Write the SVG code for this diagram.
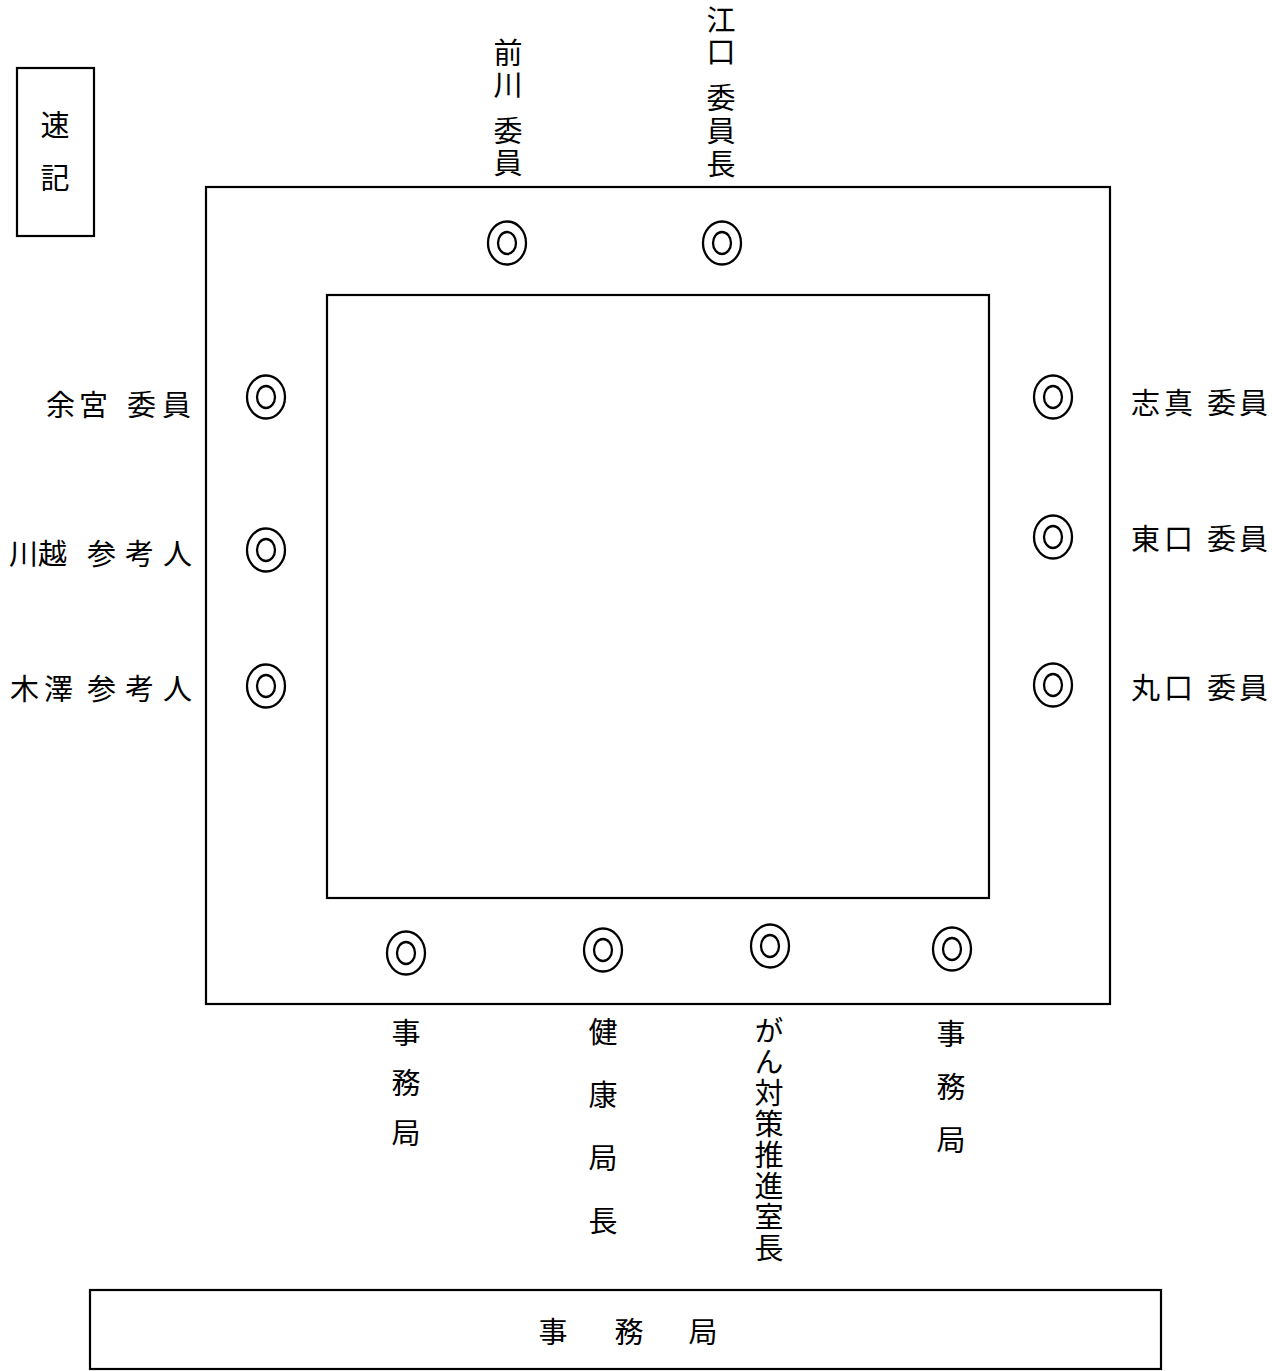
<svg xmlns="http://www.w3.org/2000/svg" width="1284" height="1371" viewBox="0 0 1284 1371">
<style>
.ln{fill:none;stroke:#000;stroke-width:2.2}
.seat{fill:none;stroke:#000;stroke-width:2.3}
text{font-family:"Noto Sans CJK JP","Noto Sans CJK SC",sans-serif;font-size:29px;fill:#000}
.m{text-anchor:middle}
.v{writing-mode:vertical-rl;text-anchor:start}
</style>
<defs>
<g id="seat"><ellipse class="seat" rx="19" ry="21.5"/><ellipse class="seat" rx="9" ry="11"/></g>
</defs>
<rect width="1284" height="1371" fill="#fff"/>
<g id="tables">
<rect class="ln" x="206" y="187" width="904" height="817"/>
<rect class="ln" x="327" y="295" width="662" height="603"/>
</g>
<g id="sokki">
<rect class="ln" x="17" y="68" width="77" height="168"/>
<text class="v" x="55" y="110" letter-spacing="24">速記</text>
</g>
<g id="maekawa">
<use href="#seat" x="507" y="243"/>
<text class="v" x="508" y="38" letter-spacing="3">前川</text>
<text class="v" x="508" y="116" letter-spacing="3">委員</text>
</g>
<g id="eguchi">
<use href="#seat" x="722" y="243"/>
<text class="v" x="721" y="5" letter-spacing="3">江口</text>
<text class="v" x="721" y="83" letter-spacing="4">委員長</text>
</g>
<g id="yomiya">
<use href="#seat" x="266" y="397"/>
<text x="46" y="416" textLength="62" lengthAdjust="spacing">余宮</text>
<text x="127" y="416" textLength="64" lengthAdjust="spacing">委員</text>
</g>
<g id="kawagoe">
<use href="#seat" x="266" y="550"/>
<text x="9" y="565">川越</text>
<text x="87" y="565" textLength="105" lengthAdjust="spacing">参考人</text>
</g>
<g id="kizawa">
<use href="#seat" x="266" y="686"/>
<text x="10" y="700" textLength="63" lengthAdjust="spacing">木澤</text>
<text x="87" y="700" textLength="105" lengthAdjust="spacing">参考人</text>
</g>
<g id="shima">
<use href="#seat" x="1053" y="397"/>
<text x="1131" y="414" textLength="62" lengthAdjust="spacing">志真</text>
<text x="1207" y="414" textLength="61" lengthAdjust="spacing">委員</text>
</g>
<g id="higashiguchi">
<use href="#seat" x="1053" y="537"/>
<text x="1131" y="550" textLength="62" lengthAdjust="spacing">東口</text>
<text x="1207" y="550" textLength="61" lengthAdjust="spacing">委員</text>
</g>
<g id="maruguchi">
<use href="#seat" x="1053" y="685"/>
<text x="1131" y="699" textLength="62" lengthAdjust="spacing">丸口</text>
<text x="1207" y="699" textLength="61" lengthAdjust="spacing">委員</text>
</g>
<g id="jimukyoku1">
<use href="#seat" x="406" y="953"/>
<text class="v" x="406" y="1018" letter-spacing="21">事務局</text>
</g>
<g id="kenkou">
<use href="#seat" x="603" y="950"/>
<text class="v" x="603" y="1017" letter-spacing="34">健康局長</text>
</g>
<g id="gan">
<use href="#seat" x="770" y="946"/>
<text class="v" x="769" y="1016" letter-spacing="2">がん対策推進室長</text>
</g>
<g id="jimukyoku2">
<use href="#seat" x="952" y="949"/>
<text class="v" x="951" y="1019" letter-spacing="24">事務局</text>
</g>
<g id="jimukyoku-box">
<rect class="ln" x="90" y="1290" width="1071" height="79"/>
<text class="m" x="553" y="1343">事</text>
<text class="m" x="629" y="1343">務</text>
<text class="m" x="703" y="1343">局</text>
</g>
<g id="connectors"></g>
</svg>
